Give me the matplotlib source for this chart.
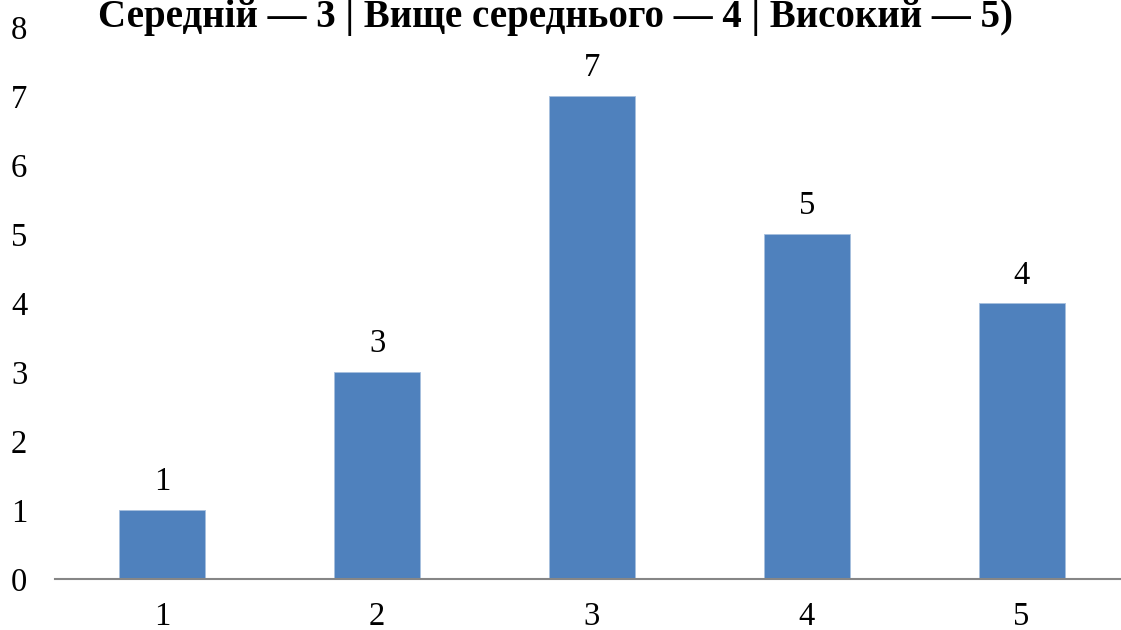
import matplotlib
matplotlib.use("Agg")
import matplotlib.pyplot as plt

categories = ["1", "2", "3", "4", "5"]
values = [1, 3, 7, 5, 4]
yticks = [0, 1, 2, 3, 4, 5, 6, 7, 8]
title = "Середній — 3 | Вище середнього — 4 | Високий — 5)"

plt.rcParams['font.family'] = ['Liberation Serif', 'DejaVu Serif']

fig = plt.figure(figsize=(11.21, 6.3), dpi=100)
ax = fig.add_axes([55/1121, 51/630, (1129-55)/1121, 552/630])

x = list(range(len(categories)))
bars = ax.bar(x, values, width=0.4, color='#4F81BD', edgecolor='#A7BFDE', linewidth=0.6, zorder=2)
for xi, v in zip(x, values):
    ax.annotate(str(v), (xi, v), xytext=(0, 9), textcoords='offset points',
                ha='center', va='bottom', fontsize=23.5)

ax.set_xlim(-0.5, 4.5)
ax.set_ylim(0, 8)
ax.set_yticks(yticks)
ax.set_yticklabels([str(t) for t in yticks])
ax.set_xticks(x)
ax.set_xticklabels(categories)
ax.tick_params(axis='both', length=0, labelsize=23.5)
ax.tick_params(axis='y', pad=20)
ax.tick_params(axis='x', pad=16)
for s in ['top', 'right', 'left']:
    ax.spines[s].set_visible(False)
ax.spines['bottom'].set_color('#868686')
ax.spines['bottom'].set_linewidth(1.5)
ax.spines['bottom'].set_clip_on(False)

fig.text(555/1121, 1 - 27/630, title, ha='center', va='baseline', fontsize=28, fontweight='bold')

fig.savefig("out.png", dpi=100)
